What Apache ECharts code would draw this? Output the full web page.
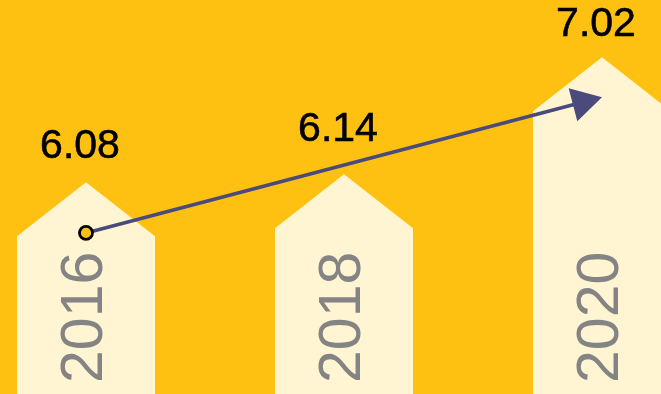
<!DOCTYPE html>
<html>
<head>
<meta charset="utf-8">
<script src="https://cdn.jsdelivr.net/npm/echarts@6/dist/echarts.min.js"></script>
<style>
  html, body { margin: 0; padding: 0; background: #FEC111; }
  #chart { width: 661px; height: 394px; }
</style>
</head>
<body>
<div id="chart"></div>
<script>
// Years and their values
const years = ['2016', '2018', '2020'];
const values = [6.08, 6.14, 7.02];

// Trend arrow: [year index, value] for its start and its tip
const arrowStart = [0, 5.70];
const arrowEnd = [2, 6.72];

const BG = '#FEC111';
const HOUSE = '#FFF5D3';
const YEAR_GRAY = '#848484';
const ARROW = '#4A4A7C';
const ROOF_H = 54;
const BAR_W = 0.535;          // house width, in units of year spacing
const LABEL_LIFT = [15, 24, 12];

const chart = echarts.init(document.getElementById('chart'), null, { renderer: 'canvas' });

function renderHouse(params, api) {
  const i = api.value(0);
  const v = api.value(1);
  const apex = api.coord([i, v]);
  const base = api.coord([i, 4.49]);
  const w = api.size([BAR_W, 0])[0];
  const cx = apex[0];
  const left = cx - w / 2, right = cx + w / 2;
  const shoulder = apex[1] + ROOF_H;
  const lift = LABEL_LIFT[params.dataIndex] || 15;
  return {
    type: 'group',
    children: [
      {
        type: 'polygon',
        shape: { points: [[left, base[1] + 2], [left, shoulder], [cx, apex[1]], [right, shoulder], [right, base[1] + 2]] },
        style: { fill: HOUSE }
      },
      {
        type: 'text',
        x: cx, y: base[1] - 11,
        rotation: Math.PI / 2,
        style: {
          text: years[params.dataIndex],
          fill: YEAR_GRAY,
          font: '59px "Liberation Sans", Arial, sans-serif',
          align: 'left',
          verticalAlign: 'middle'
        }
      },
      {
        type: 'text',
        x: cx - 6, y: apex[1] - lift,
        style: {
          text: v.toFixed(2),
          fill: '#000',
          stroke: '#000',
          lineWidth: 0.6,
          font: '41px "Liberation Sans", Arial, sans-serif',
          align: 'center',
          verticalAlign: 'bottom'
        }
      }
    ]
  };
}

function renderArrow(params, api) {
  const p0 = api.coord([api.value(0), api.value(1)]);
  const p1 = api.coord([api.value(2), api.value(3)]);
  const dx = p1[0] - p0[0], dy = p1[1] - p0[1];
  const len = Math.sqrt(dx * dx + dy * dy);
  const ux = dx / len, uy = dy / len;
  const headLen = 30, headHalf = 17;
  const bx = p1[0] - ux * headLen, by = p1[1] - uy * headLen;
  const nx = -uy, ny = ux;
  return {
    type: 'group',
    children: [
      {
        type: 'line',
        shape: { x1: p0[0], y1: p0[1], x2: bx + ux * 4, y2: by + uy * 4 },
        style: { stroke: ARROW, lineWidth: 3.5 }
      },
      {
        type: 'polygon',
        shape: { points: [[p1[0], p1[1]], [bx + nx * headHalf, by + ny * headHalf], [bx - nx * headHalf, by - ny * headHalf]] },
        style: { fill: ARROW }
      },
      {
        type: 'circle',
        shape: { cx: p0[0], cy: p0[1], r: 6.5 },
        style: { fill: BG, stroke: '#000', lineWidth: 2.8 }
      }
    ]
  };
}

chart.setOption({
  backgroundColor: BG,
  animation: false,
  grid: { left: 0, right: 0, top: 0, bottom: 0 },
  // year index axis; the right-most house runs past the edge
  xAxis: { type: 'value', min: -0.3333, max: 2.2287, show: false },
  yAxis: { type: 'value', min: 4.49, max: 7.45, show: false },
  series: [
    {
      type: 'custom',
      renderItem: renderHouse,
      data: values.map((v, i) => [i, v]),
      clip: false
    },
    {
      type: 'custom',
      renderItem: renderArrow,
      data: [[arrowStart[0], arrowStart[1], arrowEnd[0], arrowEnd[1]]],
      clip: false,
      z: 5
    }
  ]
});
</script>
</body>
</html>
